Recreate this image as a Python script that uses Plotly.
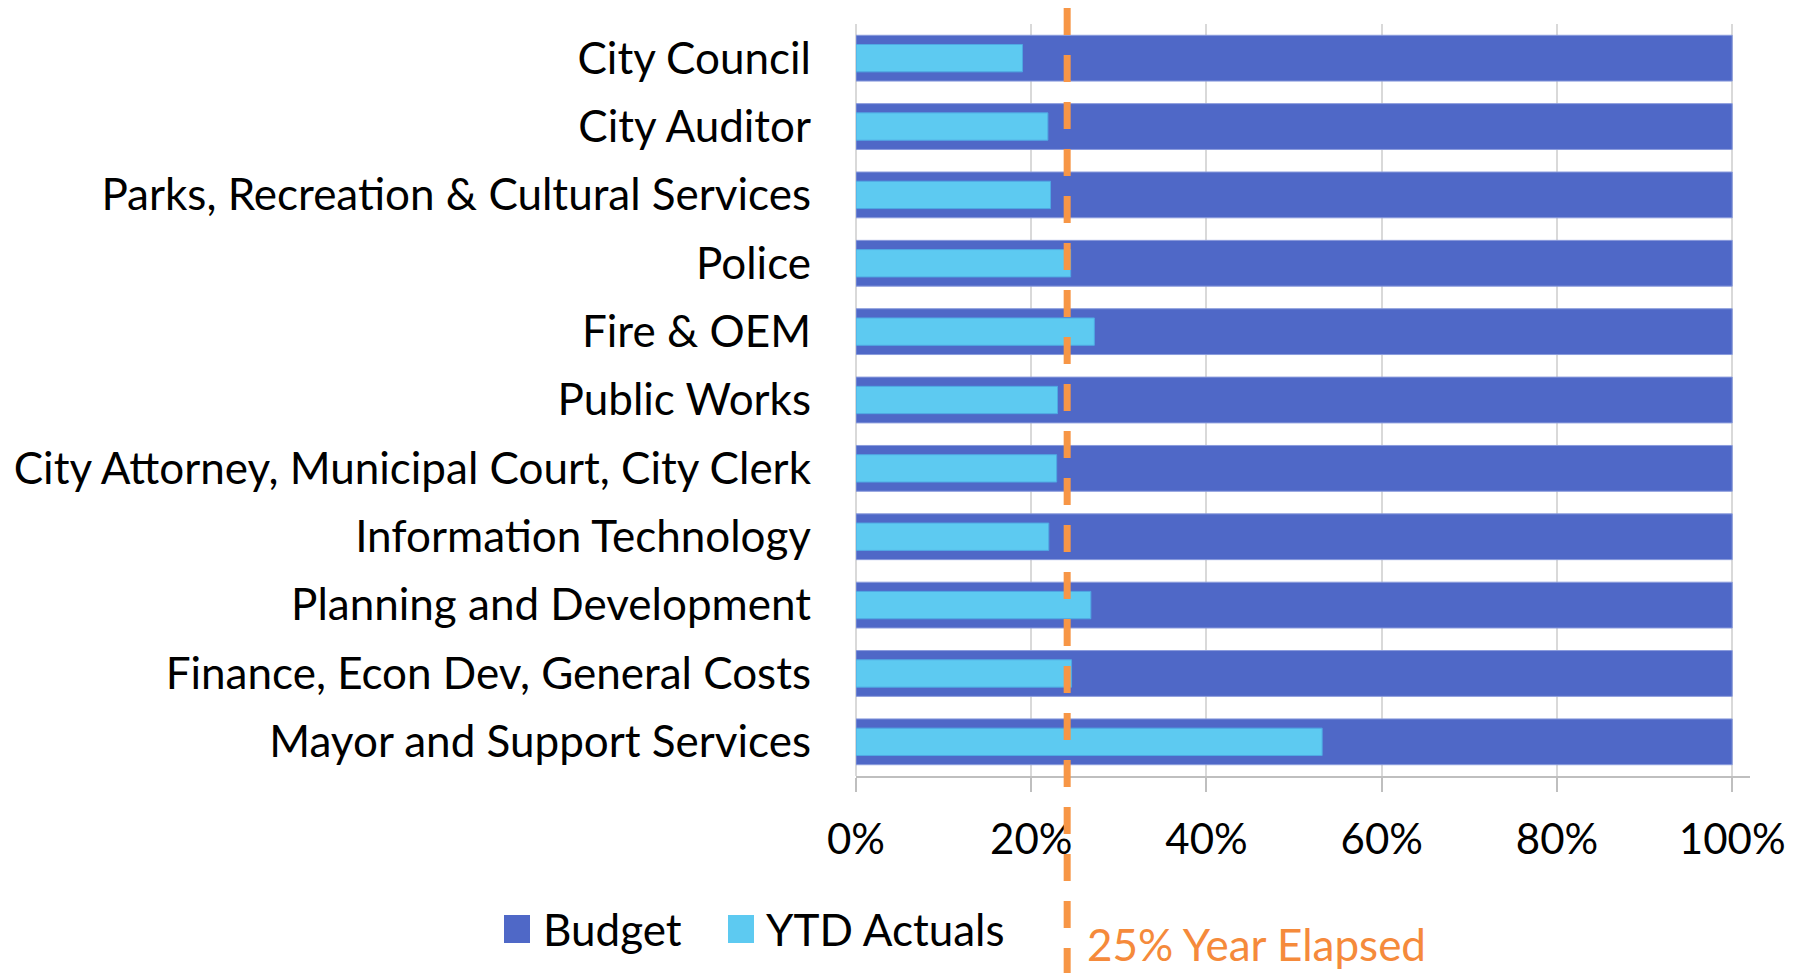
import plotly.graph_objects as go

categories = [
    "City Council",
    "City Auditor",
    "Parks, Recreation & Cultural Services",
    "Police",
    "Fire & OEM",
    "Public Works",
    "City Attorney, Municipal Court, City Clerk",
    "Information Technology",
    "Planning and Development",
    "Finance, Econ Dev, General Costs",
    "Mayor and Support Services",
]
budget = [1.0] * 11
ytd_actuals = [0.190, 0.219, 0.222, 0.245, 0.272, 0.230, 0.229, 0.220, 0.268, 0.246, 0.532]
year_elapsed_line = 0.241
x_ticks = [0, 0.2, 0.4, 0.6, 0.8, 1.0]
x_tick_labels = ["0%", "20%", "40%", "60%", "80%", "100%"]
series_names = ["Budget", "YTD Actuals"]
series_colors = ["#4F68C7", "#5DCAF1"]

FONT = "Lato"
fs = 44

OFF = 8  # page body margin
W, H = 1804 - 2 * OFF, 973 - OFF
ML = 856 - OFF
MT = 24 - OFF
MR = W - (1750 - OFF)
MB = H - (776 - OFF)
PW, PH = W - ML - MR, H - MT - MB


def px_to_paper_x(px):
    return (px - OFF - ML) / PW


def px_to_paper_y(py):
    return (H - MB - (py - OFF)) / PH


fig = go.Figure()
fig.add_trace(go.Bar(
    y=categories, x=budget, orientation="h", name=series_names[0],
    marker=dict(color=series_colors[0], line=dict(color="#8A9BDC", width=1)),
    width=0.67, showlegend=False,
))
fig.add_trace(go.Bar(
    y=categories, x=ytd_actuals, orientation="h", name=series_names[1],
    marker=dict(color=series_colors[1], line=dict(color="#4FA8E3", width=1)),
    width=0.40, showlegend=False,
))

# dashed "year elapsed" marker
fig.add_shape(
    type="line", xref="x", yref="paper",
    x0=year_elapsed_line, x1=year_elapsed_line,
    y0=px_to_paper_y(8), y1=px_to_paper_y(980),
    line=dict(color="#F79646", width=7, dash="27px,20px"),
    layer="above",
)
fig.add_annotation(
    xref="x", yref="paper", x=year_elapsed_line, y=px_to_paper_y(944),
    xanchor="left", yanchor="middle", xshift=18,
    text="25% Year Elapsed", showarrow=False,
    font=dict(family=FONT, size=fs, color="#F58A3B"),
)

# legend (square swatches + labels)
legend_sq_x = [504, 728]
legend_txt_x = [541, 764]
for name, color, sx, tx in zip(series_names, series_colors, legend_sq_x, legend_txt_x):
    fig.add_shape(
        type="rect", xref="paper", yref="paper",
        x0=px_to_paper_x(sx), x1=px_to_paper_x(sx + 26),
        y0=px_to_paper_y(915), y1=px_to_paper_y(943),
        line=dict(width=0), fillcolor=color,
    )
    fig.add_annotation(
        xref="paper", yref="paper", x=px_to_paper_x(tx), y=px_to_paper_y(929),
        xanchor="left", yanchor="middle", text=name, showarrow=False,
        font=dict(family=FONT, size=fs, color="black"),
    )

fig.update_layout(
    width=W, height=H,
    margin=dict(l=ML, r=MR, t=MT, b=MB, autoexpand=False),
    barmode="overlay",
    plot_bgcolor="white", paper_bgcolor="white",
    font=dict(family=FONT, size=fs, color="black"),
    showlegend=False,
)
fig.update_xaxes(
    range=[0, 1.0203], tickvals=x_ticks, ticktext=x_tick_labels,
    showgrid=True, gridcolor="#D9D9D9", gridwidth=2,
    zeroline=True, zerolinecolor="#D9D9D9", zerolinewidth=2,
    showline=True, linecolor="#BFBFBF", linewidth=2,
    ticks="outside", ticklen=14, tickcolor="#BFBFBF", tickwidth=2,
    ticklabelstandoff=12, automargin=False,
    tickfont=dict(family=FONT, size=42, color="black"),
)
fig.update_yaxes(
    categoryorder="array", categoryarray=categories, autorange="reversed",
    showgrid=False, zeroline=False, showline=False, ticks="",
    ticklabelstandoff=44, automargin=False,
    tickfont=dict(family=FONT, size=fs, color="black"),
)

fig.write_html(
    "out.html",
    post_script="document.documentElement.style.overflow='hidden';document.body.style.overflow='hidden';",
)
